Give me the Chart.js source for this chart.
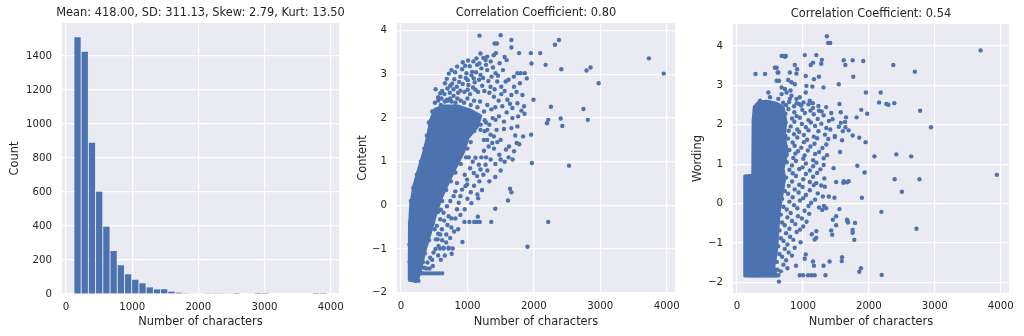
<!DOCTYPE html>
<html>
<head>
<meta charset="utf-8">
<script src="https://cdn.jsdelivr.net/npm/chart.js@4.4.0/dist/chart.umd.min.js"></script>
<style>
  body { margin: 0; background: #fff; }
  canvas { position: absolute; top: 0; }
</style>
</head>
<body>
<canvas id="hist" width="345" height="336" style="left:0"></canvas>
<canvas id="content" width="340" height="336" style="left:345px"></canvas>
<canvas id="wording" width="339" height="336" style="left:685px"></canvas>
<script>
const BLUE = "#4C72B0";
const INK = "#262626";
const FONT = "DejaVu Sans";

Chart.defaults.font.family = FONT;
Chart.defaults.color = INK;

// length histogram
const histTitle = "Mean: 418.00, SD: 311.13, Skew: 2.79, Kurt: 13.50";
const binStart = 120;
const binWidth = 109.1;
const counts = [1510, 1425, 890, 602, 396, 253, 169, 116, 84, 63, 39, 27, 28, 14, 8,
                5, 4, 3, 2, 2, 2, 3, 1, 0, 3, 1, 1, 0, 0, 0, 0, 0, 0, 1, 1];

const charTicks = [0, 1000, 2000, 3000, 4000];
const countTicks = [0, 200, 400, 600, 800, 1000, 1200, 1400];
const scoreTicks = [-2, -1, 0, 1, 2, 3, 4];

// [characters, content score]
const contentPoints = [
  [1182, 3.89], [1500, 3.90], [1662, 3.79], [1662, 3.62], [1409, 3.71], [1444, 3.71], [1429, 3.49],
  [1560, 3.40], [1778, 3.49], [1955, 3.49], [2096, 3.49], [2318, 3.68], [2379, 3.79], [1965, 3.25],
  [2177, 3.22], [2414, 3.12], [2793, 3.09], [2854, 3.16], [3732, 3.37], [3955, 3.02], [2975, 2.80],
  [1995, 2.42], [2258, 2.26], [2747, 2.21], [2197, 1.88], [2217, 1.96], [2404, 1.99], [2429, 1.82],
  [2813, 1.96], [1960, 1.62], [1970, 0.97], [2530, 0.91], [2216, -0.38], [1904, -0.95], [1641, 0.38],
  [1662, 0.30], [1611, 0.11], [1162, 0.16], [1419, -0.08], [1157, -0.26], [1359, -0.38], [1101, -0.38],
  [1141, -0.38], [1187, -0.38], [1030, -0.38], [955, -0.38], [843, -0.09], [960, -0.09], [924, -0.84],
  [758, -0.51], [894, -0.22], [763, -1.11], [717, -0.99], [778, -0.99], [586, -0.99], [641, -0.99],
  [551, -0.78], [591, -0.67], [505, -0.55], [682, -0.67],
  [1864, 3.03], [1753, 3.03], [1803, 3.03], [1894, 2.91], [1702, 2.72], [1576, 2.84], [1424, 3.03],
  [1485, 3.26], [1591, 3.33], [1298, 3.41], [1273, 3.33], [1197, 3.48], [1136, 3.37], [1146, 3.22],
  [1035, 3.19], [1071, 3.06], [985, 3.03], [919, 3.12], [894, 2.95], [803, 2.89], [742, 2.74],
  [662, 2.80], [522, 2.66], [591, 2.57], [1005, 2.87], [1096, 2.91], [1197, 2.99], [1298, 3.10],
  [1364, 2.95], [1449, 2.84], [1510, 2.72], [1348, 2.72], [1222, 2.74], [1121, 2.65], [1005, 2.65],
  [894, 2.63], [793, 2.51], [692, 2.42], [1399, 2.49], [1510, 2.55], [1601, 2.42], [1525, 2.27],
  [1641, 2.33], [1677, 2.23], [1591, 2.13], [1475, 2.04], [1424, 1.96], [1550, 1.92], [1677, 2.00],
  [1763, 2.04], [1813, 2.17], [1853, 2.27], [1753, 2.34], [1662, 2.53], [1828, 2.53],
  [560, 2.48], [620, 2.62], [655, 2.55], [700, 2.68], [735, 2.58], [770, 2.79], [790, 2.66],
  [840, 2.72], [860, 2.58], [875, 2.83], [930, 2.78], [955, 2.60], [975, 2.92], [1015, 2.76],
  [1040, 2.55], [1060, 2.98], [1085, 2.70], [1110, 2.82], [1130, 3.05], [1160, 2.60], [1175, 2.88],
  [1210, 3.14], [1235, 2.92], [1255, 2.62], [1280, 3.22], [1315, 2.85], [1330, 2.58], [1385, 3.16],
  [1410, 2.66], [1460, 2.97], [1470, 2.40], [1535, 3.10], [1560, 2.62], [1620, 2.88], [1700, 2.95],
  [1740, 2.60], [1790, 2.80], [690, 2.90], [720, 3.02], [760, 3.10], [815, 3.05], [845, 3.18],
  [930, 3.28], [965, 3.20], [1010, 3.32], [1090, 3.30], [1180, 3.25], [1240, 3.38], [1350, 3.30],
  [1395, 3.44], [600, 2.30], [660, 2.38], [740, 2.45], [820, 2.35], [900, 2.40], [1000, 2.45],
  [1100, 2.40], [1190, 2.38], [1300, 2.30], [1360, 2.20], [1420, 2.25],
  [1439, 1.73], [1550, 1.75], [1662, 1.77], [1753, 1.81], [1348, 1.62], [1247, 1.50], [1374, 1.43],
  [1500, 1.50], [1626, 1.35], [1702, 1.24], [1742, 1.43], [1838, 1.58], [1581, 1.28], [1480, 1.16],
  [1197, 1.73], [1300, 1.73], [1399, 1.58], [1298, 1.50],
  [1280, 1.90], [1330, 1.85], [1380, 2.00], [1260, 1.70], [1320, 1.35], [1400, 1.30], [1450, 1.45],
  [1250, 1.25], [1210, 1.10], [1280, 1.10], [1350, 1.05], [1420, 0.95], [1500, 1.05], [1560, 1.00],
  [1620, 1.10], [1180, 0.55], [1240, 0.70], [1300, 0.80], [1330, 0.55], [1420, 0.65], [1500, 0.80],
  [1050, 0.30], [1100, 0.45], [1150, 0.25], [1220, 0.35], [1060, 0.05], [1000, 0.15], [960, 0.70],
  [1040, 0.85], [1080, 1.00], [1020, 1.10], [1860, 2.10], [1720, 1.60], [1780, 1.40], [1680, 1.05],
  [1121, 1.09], [1172, 0.93], [1096, 0.74], [995, 0.59], [995, 0.48], [1146, 0.67], [1197, 0.82],
  [1273, 0.93], [843, 0.51], [818, 0.32], [793, 0.21], [742, 0.10], [692, -0.02], [641, -0.17],
  [869, 0.06], [894, 0.21], [970, 0.44], [919, 0.36], [717, -0.25], [591, -0.32], [540, -0.47],
  [616, -0.55], [525, -0.78], [566, -0.93], [641, -0.97], [717, -0.97], [490, -1.08], [439, -1.20],
  [399, -1.31], [480, -1.39], [348, -1.43],
  [600, -0.10], [650, -0.35], [700, -0.45], [760, -0.30], [800, -0.60], [560, -0.65], [620, -0.80],
  [680, -0.85], [740, -0.75], [520, -1.00], [560, -1.15], [600, -1.25], [470, -1.25], [430, -1.45],
  [380, -1.45], [660, -1.15], [820, -0.30], [860, -0.55],
  [300, -1.56], [340, -1.56], [380, -1.56], [420, -1.56], [460, -1.56], [500, -1.56], [540, -1.56],
  [580, -1.56], [620, -1.56], [212, -1.73], [262, -1.73],
  [140, -1.60], [130, -1.30], [128, -0.90], [135, -0.40], [150, 0.10], [185, 0.40], [240, 0.70],
  [300, 1.00], [350, 1.30], [390, 1.60], [420, 1.90], [470, 2.15], [510, 2.35], [560, 2.40],
  [610, 2.45], [700, 2.40], [760, 2.38], [850, 2.45], [950, 2.35], [1050, 2.30], [1150, 2.25],
  [1250, 2.15], [1260, 1.95], [1200, 1.85], [1100, 1.70], [1050, 1.45], [1000, 1.30], [980, 1.10],
  [900, 0.95], [820, 0.75], [750, 0.55], [680, 0.35], [620, 0.10], [560, -0.15], [480, -0.40],
  [420, -0.80], [360, -1.10], [330, -1.30], [290, -1.50]
];

// outline of the region where the markers overlap completely, [characters, content score]
const contentDense = [
  [125, -1.72], [125, -1.2], [128, -0.5], [145, 0.0], [195, 0.45], [270, 0.85], [350, 1.25],
  [410, 1.65], [445, 1.95], [510, 2.2], [640, 2.28], [850, 2.28], [1050, 2.18], [1200, 2.05],
  [1150, 1.8], [1010, 1.55], [950, 1.25], [850, 0.95], [720, 0.55], [600, 0.15], [515, -0.25],
  [440, -0.64], [365, -1.02], [305, -1.4], [262, -1.65], [230, -1.74]
];

// [characters, wording score]
const wordingPoints = [
  [1363, 4.25], [1383, 4.08], [1414, 4.08], [3694, 3.89], [3940, 0.73], [2697, 3.35], [2371, 3.52],
  [1915, 3.62], [1619, 3.64], [1644, 3.52], [1764, 3.22], [1754, 3.64], [1288, 3.65], [1203, 3.77],
  [1028, 3.77], [742, 3.75], [702, 3.75], [281, 3.29], [602, 3.45], [617, 3.33], [637, 3.12],
  [777, 3.14], [912, 3.41], [877, 3.52], [902, 3.30], [1043, 3.24], [1118, 3.52], [1153, 3.58],
  [1168, 3.16], [1143, 2.97], [1053, 2.99], [1243, 3.22], [1278, 3.55], [877, 3.03], [812, 2.87],
  [727, 2.91], [677, 2.78], [802, 2.66], [952, 2.70], [1043, 2.82], [1103, 2.61], [1153, 2.43],
  [942, 2.53], [1313, 2.95], [1544, 3.03], [1243, 2.36], [1353, 2.45], [1554, 2.53], [1574, 2.32],
  [1955, 2.82], [2180, 2.82], [2155, 2.57], [2266, 2.53], [2296, 2.51], [2386, 2.55], [1975, 2.28],
  [1885, 2.38], [1814, 2.19], [1654, 2.19], [1639, 2.07], [1644, 1.94], [1694, 1.86], [1754, 1.73],
  [1855, 1.67], [2942, 1.94], [2777, 2.36], [1950, 1.56], [1594, 1.61], [1484, 1.69], [1564, 1.31],
  [2085, 1.20], [2416, 1.25], [2642, 1.20], [1825, 0.96], [1935, 0.79], [2391, 0.62], [2767, 0.62],
  [2501, 0.30], [1895, 0.15], [2190, -0.21], [2722, -0.64], [1669, 0.54], [1614, 0.53], [1333, 0.43],
  [1303, 0.18], [1393, 0.18], [1293, -0.16], [1318, -0.06], [1454, -0.41], [1504, -0.32], [1669, -0.41],
  [1684, -0.48], [1754, -0.74], [1790, -0.49], [1444, -0.79], [1178, -0.91], [1043, -1.29], [1168, -1.58],
  [1313, -1.58], [1589, -1.46], [1855, -1.73], [2195, -1.81], [637, -1.98],
  [1203, 0.52], [1278, 0.46], [1504, 0.55], [1619, 0.57], [1694, 0.57], [1479, 0.15], [1353, -0.12],
  [1554, -0.14], [1679, -0.46], [1504, -0.55], [1754, -0.67], [1779, -0.92], [1429, -0.68], [1203, -0.70],
  [1203, -0.87], [1028, -1.40], [1153, -1.47], [1404, -1.47], [1594, -1.36], [1880, -1.64],
  [225, -1.82], [260, -1.82], [300, -1.82], [340, -1.82], [380, -1.82], [420, -1.82], [460, -1.82],
  [500, -1.82], [540, -1.82], [580, -1.82], [627, -1.82], [952, -1.82], [1003, -1.82], [1078, -1.82],
  [1128, -1.82], [1178, -1.82], [1343, -1.82],
  [426, 3.29], [576, 3.45], [627, 3.33], [677, 3.75], [727, 3.73], [602, 3.12], [802, 3.33],
  [827, 3.08], [677, 2.95], [752, 2.82], [827, 2.74], [902, 2.66], [501, 2.70], [476, 2.82],
  [627, 2.66], [351, 2.61],
  [700, 2.56], [745, 2.50], [790, 2.58], [865, 2.47], [905, 2.55], [975, 2.49], [1010, 2.57],
  [1085, 2.52], [1150, 2.55], [1235, 2.48],
  [665, 2.35], [735, 2.28], [780, 2.40], [870, 2.32], [905, 2.22], [990, 2.38], [1030, 2.30],
  [1115, 2.36], [1165, 2.27], [1285, 2.34], [1315, 2.24], [1430, 2.30],
  [705, 2.12], [740, 2.05], [835, 2.16], [870, 2.08], [955, 2.18], [985, 2.02], [1085, 2.12],
  [1120, 2.06], [1225, 2.15], [1280, 2.03], [1395, 2.10], [1450, 2.14], [1575, 2.05],
  [690, 1.92], [785, 1.85], [815, 1.96], [915, 1.88], [945, 1.82], [1045, 1.94], [1085, 1.86],
  [1185, 1.97], [1235, 1.84], [1355, 1.92], [1415, 1.88], [1545, 1.95], [1605, 1.84],
  [735, 1.72], [775, 1.65], [865, 1.76], [915, 1.68], [1015, 1.74], [1065, 1.62], [1165, 1.70],
  [1215, 1.66], [1335, 1.75], [1385, 1.64], [1485, 1.72],
  [715, 1.50], [745, 1.44], [845, 1.55], [875, 1.47], [975, 1.42], [1015, 1.56], [1115, 1.45],
  [1175, 1.52], [1295, 1.41], [1355, 1.50],
  [695, 1.30], [755, 1.24], [795, 1.36], [885, 1.27], [925, 1.33], [1025, 1.22], [1075, 1.35],
  [1185, 1.26], [1245, 1.31], [1365, 1.23],
  [715, 1.12], [755, 1.05], [855, 1.16], [895, 1.08], [1005, 1.14], [1045, 1.02], [1155, 1.10],
  [1205, 1.04], [1315, 1.15],
  [695, 0.94], [795, 0.86], [835, 0.97], [945, 0.88], [995, 0.92], [1105, 0.84], [1155, 0.95],
  [1265, 0.87], [1315, 0.98], [1465, 0.90],
  [705, 0.74], [745, 0.66], [845, 0.77], [895, 0.70], [1005, 0.62], [1045, 0.75], [1155, 0.68],
  [1215, 0.78], [1325, 0.64],
  [685, 0.52], [785, 0.45], [835, 0.56], [945, 0.48], [995, 0.42], [1105, 0.55], [1165, 0.47],
  [725, 0.32], [775, 0.25], [875, 0.36], [935, 0.28], [1045, 0.22], [1105, 0.34], [1225, 0.26],
  [685, 0.12], [795, 0.05], [845, 0.16], [955, 0.08], [1005, 0.14], [1125, 0.02], [1185, 0.10],
  [705, -0.08], [755, -0.15], [865, -0.04], [915, -0.12], [1025, -0.18], [1085, -0.06], [1245, -0.10],
  [665, -0.28], [765, -0.35], [815, -0.24], [925, -0.32], [985, -0.38], [1095, -0.26],
  [685, -0.48], [725, -0.55], [835, -0.44], [885, -0.52], [1005, -0.58], [1055, -0.46],
  [645, -0.68], [745, -0.75], [795, -0.64], [905, -0.72], [955, -0.66], [1135, -0.78],
  [665, -0.88], [705, -0.95], [805, -0.84], [855, -0.92], [965, -0.98],
  [625, -1.08], [725, -1.15], [765, -1.04], [875, -1.12],
  [645, -1.28], [685, -1.35], [785, -1.24], [835, -1.32],
  [605, -1.48], [705, -1.55], [745, -1.44], [895, -1.58],
  [615, -1.68], [665, -1.72], [765, -1.64]
];

// outline of the region where the markers overlap completely, [characters, wording score]
const wordingDense = [
  [118, -1.84], [118, 0.70], [240, 0.72], [245, 2.1], [262, 2.45], [330, 2.58], [450, 2.60],
  [600, 2.55], [700, 2.45], [740, 2.1], [720, 1.7], [760, 1.3], [700, 0.9], [720, 0.6],
  [680, 0.2], [640, -0.2], [620, -0.7], [600, -1.2], [560, -1.6], [600, -1.84]
];

const plotBackground = {
  id: "plotBackground",
  beforeDraw(chart) {
    const { ctx, chartArea: a } = chart;
    ctx.save();
    ctx.fillStyle = "#EAEAF2";
    ctx.fillRect(a.left, a.top, a.width, a.height);
    ctx.restore();
  }
};

// title centred over the plot area, free to run past its edges
function plotTitle(text) {
  return {
    id: "plotTitle",
    afterDraw(chart) {
      const { ctx, chartArea: a } = chart;
      ctx.save();
      ctx.font = "11.4px '" + FONT + "'";
      ctx.fillStyle = INK;
      ctx.textAlign = "center";
      ctx.textBaseline = "middle";
      ctx.fillText(text, (a.left + a.right) / 2, a.top - 10);
      ctx.restore();
    }
  };
}

// fills the overplotted core of a scatter through the chart's own scales
function denseCore(outline) {
  return {
    id: "denseCore",
    beforeDatasetsDraw(chart) {
      const { ctx, chartArea: a, scales: { x, y } } = chart;
      ctx.save();
      ctx.beginPath();
      ctx.rect(a.left, a.top, a.width, a.height);
      ctx.clip();
      ctx.beginPath();
      outline.forEach((p, i) => {
        const px = x.getPixelForValue(p[0]);
        const py = y.getPixelForValue(p[1]);
        if (i === 0) ctx.moveTo(px, py);
        else ctx.lineTo(px, py);
      });
      ctx.closePath();
      ctx.fillStyle = BLUE;
      ctx.fill();
      ctx.lineJoin = "round";
      ctx.lineWidth = 3;
      ctx.strokeStyle = BLUE;
      ctx.stroke();
      ctx.restore();
    }
  };
}

function minus(v) {
  return String(v).replace("-", "\u2212");
}

const gridStyle = { color: "#ffffff", lineWidth: 1.2, drawTicks: false, offset: false };

function xAxis(height) {
  return {
    type: "linear", min: -60, max: 4125, offset: false,
    grid: gridStyle,
    border: { display: false },
    afterBuildTicks: s => { s.ticks = charTicks.map(v => ({ value: v })); },
    afterFit: s => { s.height = height; s.paddingLeft = 0; s.paddingRight = 0; },
    ticks: { padding: 7, font: { size: 10.2 }, color: INK, callback: v => minus(v) },
    title: { display: true, text: "Number of characters", color: INK,
             font: { size: 11.4 }, padding: { top: 0, bottom: 7.5 } }
  };
}

function yAxis(width, min, max, ticks, label, labelPad) {
  return {
    type: "linear", min: min, max: max,
    grid: gridStyle,
    border: { display: false },
    afterBuildTicks: s => { s.ticks = ticks.map(v => ({ value: v })); },
    afterFit: s => { s.width = width; s.paddingTop = 0; s.paddingBottom = 0; },
    ticks: { padding: 10, font: { size: 10.2 }, color: INK, callback: v => minus(v) },
    title: { display: true, text: label, color: INK,
             font: { size: 11.4 }, padding: { top: labelPad, bottom: 0 } }
  };
}

function baseOptions(padTop, padRight, x, y) {
  return {
    responsive: false,
    animation: false,
    events: [],
    layout: { padding: { left: 0, top: padTop, bottom: 0, right: padRight } },
    plugins: {
      legend: { display: false },
      tooltip: { enabled: false },
      title: { display: false }
    },
    scales: { x: x, y: y }
  };
}

function makeHistogram(id) {
  const bars = counts.map((c, i) => ({ x: binStart + (i + 0.5) * binWidth, y: c }));
  new Chart(document.getElementById(id), {
    type: "bar",
    data: {
      datasets: [{
        data: bars,
        backgroundColor: BLUE,
        borderWidth: 0,
        barPercentage: 0.87,
        categoryPercentage: 1
      }]
    },
    options: baseOptions(23, 6, xAxis(42),
      yAxis(62, 0, 1594, countTicks, "Count", 8.2)),
    plugins: [plotBackground, plotTitle(histTitle)]
  });
}

function makeScatter(id, points, dense, title, padTop, padRight, yWidth, yMin, yMax, label, labelPad) {
  new Chart(document.getElementById(id), {
    type: "scatter",
    data: {
      datasets: [{
        data: points.map(p => ({ x: p[0], y: p[1] })),
        backgroundColor: BLUE,
        pointBorderWidth: 0,
        pointRadius: 2.2
      }]
    },
    options: baseOptions(padTop, padRight, xAxis(43),
      yAxis(yWidth, yMin, yMax, scoreTicks, label, labelPad)),
    plugins: [plotBackground, denseCore(dense), plotTitle(title)]
  });
}

makeHistogram("hist");
makeScatter("content", contentPoints, contentDense, "Correlation Coefficient: 0.80",
  23, 10, 52, -2.01, 4.18, "Content", 10.9);
makeScatter("wording", wordingPoints, wordingDense, "Correlation Coefficient: 0.54",
  24, 15, 48, -2.27, 4.56, "Wording", 6.2);
</script>
</body>
</html>
